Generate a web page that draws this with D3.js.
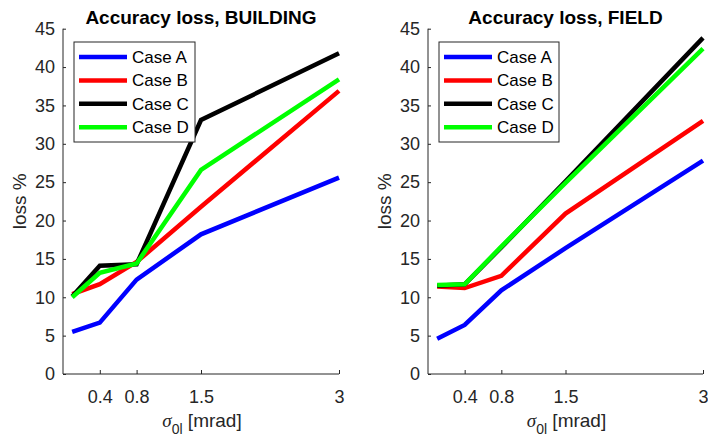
<!DOCTYPE html>
<html>
<head>
<meta charset="utf-8">
<script src="https://cdn.jsdelivr.net/npm/d3@7"></script>
<style>
  body { margin: 0; background: #fff; }
  svg { font-family: "Liberation Sans", Arial, sans-serif; }
  .tick text { fill: #262626; }
</style>
</head>
<body>
<div class="chart"></div>
<script>
const sigmaValues = [0.1, 0.4, 0.8, 1.5, 3];
const xTickValues = [0.4, 0.8, 1.5, 3];
const yTickValues = [0, 5, 10, 15, 20, 25, 30, 35, 40, 45];
const caseNames = ["Case A", "Case B", "Case C", "Case D"];
const caseColors = ["#0000ff", "#ff0000", "#000000", "#00ff00"];

const buildingA = [5.5, 6.7, 12.3, 18.2, 25.6];
const buildingB = [10.4, 11.7, 14.6, 21.8, 36.9];
const buildingC = [10.1, 14.1, 14.3, 33.1, 41.8];
const buildingD = [10.0, 13.2, 14.4, 26.6, 38.4];

const fieldA = [4.6, 6.4, 10.9, 16.4, 27.8];
const fieldB = [11.4, 11.2, 12.8, 20.9, 33.0];
const fieldC = [11.5, 11.7, 16.5, 25.1, 43.8];
const fieldD = [11.6, 11.7, 16.6, 24.9, 42.4];

const panels = [
  { title: "Accuracy loss, BUILDING", series: [buildingA, buildingB, buildingC, buildingD], left: 63, right: 339, legendX: 74, legendW: 121 },
  { title: "Accuracy loss, FIELD", series: [fieldA, fieldB, fieldC, fieldD], left: 428, right: 703, legendX: 439, legendW: 120 },
];

const plotTop = 28.7, plotBottom = 374;
const axisColor = "#262626";

const svg = d3
  .select(".chart")
  .append("svg")
  .attr("width", 708)
  .attr("height", 436);

panels.forEach((p) => {
  const x = d3.scaleLinear().domain([0, 3]).range([p.left, p.right]);
  const y = d3.scaleLinear().domain([0, 45]).range([plotBottom, plotTop]);
  const g = svg.append("g");

  // axes (box off, ticks pointing inward)
  g.append("g")
    .attr("transform", `translate(0,${plotBottom})`)
    .call(d3.axisBottom(x).tickValues(xTickValues).tickSize(-4).tickPadding(16).tickFormat((d) => d))
    .call((g) => g.select(".domain").attr("stroke", axisColor).attr("d", `M${p.left},0H${p.right}`))
    .call((g) => g.selectAll(".tick line").attr("stroke", axisColor))
    .call((g) => g.selectAll(".tick text").attr("font-size", 18).attr("font-family", "Liberation Sans, Arial, sans-serif"));

  g.append("g")
    .attr("transform", `translate(${p.left},0)`)
    .call(d3.axisLeft(y).tickValues(yTickValues).tickSize(-3).tickPadding(8))
    .call((g) => g.select(".domain").attr("stroke", axisColor).attr("d", `M0,${plotTop}V${plotBottom}`))
    .call((g) => g.selectAll(".tick line").attr("stroke", axisColor))
    .call((g) => g.selectAll(".tick text").attr("font-size", 18).attr("font-family", "Liberation Sans, Arial, sans-serif"));

  // lines
  const line = d3
    .line()
    .x((d, i) => x(sigmaValues[i]))
    .y((d) => y(d));

  p.series.forEach((values, i) => {
    g.append("path")
      .datum(values)
      .attr("fill", "none")
      .attr("stroke", caseColors[i])
      .attr("stroke-width", 4.5)
      .attr("stroke-linejoin", "miter")
      .attr("d", line);
  });

  // title
  const cx = (p.left + p.right) / 2;
  g.append("text")
    .attr("x", cx)
    .attr("y", 24)
    .attr("text-anchor", "middle")
    .attr("font-weight", "bold")
    .attr("font-size", 19)
    .attr("fill", "#000")
    .text(p.title);

  // y label
  g.append("text")
    .attr("transform", `translate(${p.left - 37},${(plotTop + plotBottom) / 2}) rotate(-90)`)
    .attr("text-anchor", "middle")
    .attr("font-size", 19)
    .attr("fill", axisColor)
    .text("loss %");

  // x label
  const xl = g.append("text")
    .attr("x", cx + 1)
    .attr("y", 427)
    .attr("text-anchor", "middle")
    .attr("font-size", 19)
    .attr("fill", axisColor);
  xl.append("tspan")
    .attr("font-family", "Liberation Serif, serif")
    .attr("font-style", "italic")
    .text("σ");
  xl.append("tspan")
    .attr("font-size", 14)
    .attr("dy", 7)
    .text("0l");
  xl.append("tspan")
    .attr("dy", -7)
    .text(" [mrad]");

  // legend
  const legend = g.append("g").attr("transform", `translate(${p.legendX},42)`);
  legend.append("rect")
    .attr("width", p.legendW)
    .attr("height", 100)
    .attr("fill", "#fff")
    .attr("stroke", axisColor)
    .attr("stroke-width", 1);

  const rows = legend.selectAll("g.row")
    .data(caseNames)
    .enter()
    .append("g")
    .attr("class", "row")
    .attr("transform", (d, i) => `translate(0,${15 + i * 23.4})`);

  rows.append("line")
    .attr("x1", 5)
    .attr("x2", 53)
    .attr("stroke", (d, i) => caseColors[i])
    .attr("stroke-width", 4.5);

  rows.append("text")
    .attr("x", 58)
    .attr("dy", "0.35em")
    .attr("font-size", 17)
    .attr("fill", "#000")
    .text((d) => d);
});
</script>
</body>
</html>
